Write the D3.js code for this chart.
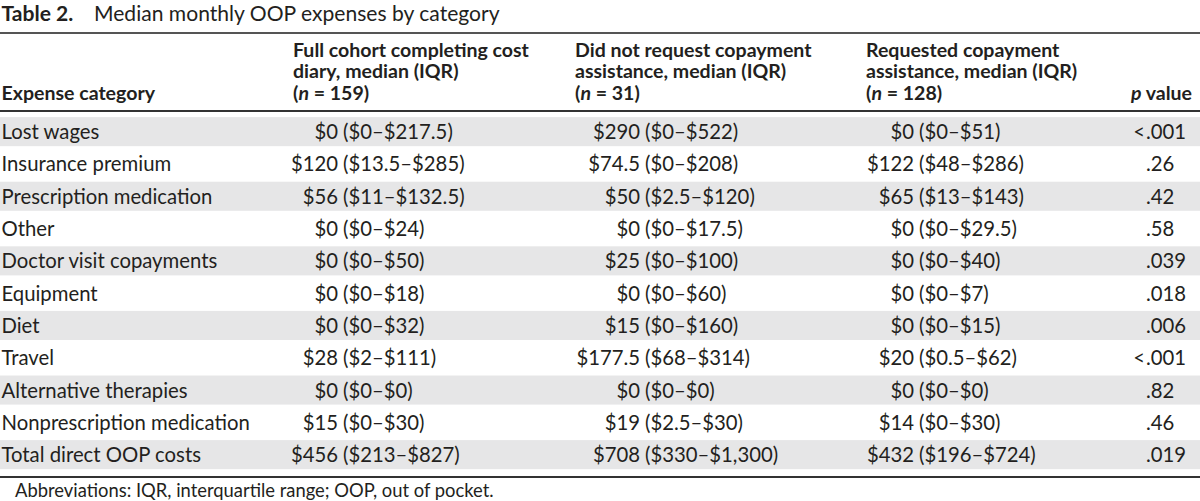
<!DOCTYPE html>
<meta charset="utf-8">
<style>
    body { margin: 0; background: #fff; }
    svg text { font-family: Lato, "Open Sans", sans-serif; fill: #231f20; }
    .head { font-weight: bold; }
    .band { fill: #e6e6e7; }
</style>
<body>
<script src="https://d3js.org/d3.v7.min.js"></script>
<script>
    // table values
    var categories = ["Lost wages", "Insurance premium", "Prescription medication", "Other",
        "Doctor visit copayments", "Equipment", "Diet", "Travel", "Alternative therapies",
        "Nonprescription medication", "Total direct OOP costs"];
    var fullCohort = ["$0 ($0–$217.5)", "$120 ($13.5–$285)", "$56 ($11–$132.5)", "$0 ($0–$24)",
        "$0 ($0–$50)", "$0 ($0–$18)", "$0 ($0–$32)", "$28 ($2–$111)", "$0 ($0–$0)",
        "$15 ($0–$30)", "$456 ($213–$827)"];
    var notRequested = ["$290 ($0–$522)", "$74.5 ($0–$208)", "$50 ($2.5–$120)", "$0 ($0–$17.5)",
        "$25 ($0–$100)", "$0 ($0–$60)", "$15 ($0–$160)", "$177.5 ($68–$314)", "$0 ($0–$0)",
        "$19 ($2.5–$30)", "$708 ($330–$1,300)"];
    var requested = ["$0 ($0–$51)", "$122 ($48–$286)", "$65 ($13–$143)", "$0 ($0–$29.5)",
        "$0 ($0–$40)", "$0 ($0–$7)", "$0 ($0–$15)", "$20 ($0.5–$62)", "$0 ($0–$0)",
        "$14 ($0–$30)", "$432 ($196–$724)"];
    var pValues = ["<.001", ".26", ".42", ".58", ".039", ".018", ".006", "<.001", ".82", ".46", ".019"];

    var headFull = ["Full cohort completing cost", "diary, median (IQR)", ["(", "n", " = 159)"]];
    var headNot = ["Did not request copayment", "assistance, median (IQR)", ["(", "n", " = 31)"]];
    var headReq = ["Requested copayment", "assistance, median (IQR)", ["(", "n", " = 128)"]];
    var titleLabel = "Table 2.";
    var titleText = "Median monthly OOP expenses by category";
    var footnote = "Abbreviations: IQR, interquartile range; OOP, out of pocket.";

    var width = 1200, height = 501;

    var svg = d3.select("body").append("svg")
        .attr("width", width)
        .attr("height", height);

    // pick a font size so a sample string spans the width it has in the original
    function fitSize(sample, target, bold) {
        var t = svg.append("text").attr("font-size", 20).text(sample);
        if (bold) t.attr("font-weight", "bold");
        var len = t.node().getComputedTextLength();
        t.remove();
        return 20 * target / len;
    }
    var cellSize = fitSize("Prescription medication", 211, false);
    var headSize = fitSize("Full cohort completing cost", 236, true);
    var titleSize = fitSize(titleText, 406, false);
    var footSize = fitSize(footnote, 479, false);

    // title
    var title = svg.append("text").attr("x", 1.5).attr("y", 21).attr("font-size", titleSize);
    title.append("tspan").attr("font-weight", "bold").text(titleLabel);
    title.append("tspan").attr("x", 94).text(titleText);

    // rules
    function rule(yy, w, c) {
        svg.append("line").attr("x1", 0).attr("x2", width).attr("y1", yy).attr("y2", yy)
            .attr("stroke", c).attr("stroke-width", w);
    }
    rule(33, 2, "#555");
    rule(111, 2, "#333");
    rule(477, 2, "#333");

    // row scale
    var y = d3.scaleBand()
        .domain(categories)
        .range([115.5, 470.8])
        .paddingInner(0.1)
        .paddingOuter(0.05);

    // column anchors: "(" alignment for the IQR columns, decimal point for p
    var colX = { cat: 1.5, full: 343, not: 645, req: 919, p: 1146 };
    var headX = { full: 293, not: 575, req: 866 };

    // header
    var headLines = [57, 78, 99.5];
    function drawHead(lines, x) {
        lines.forEach(function(l, i) {
            var t = svg.append("text").attr("class", "head").attr("font-size", headSize)
                .attr("x", x).attr("y", headLines[i]);
            if (Array.isArray(l)) {
                t.append("tspan").text(l[0]);
                t.append("tspan").attr("font-style", "italic").text(l[1]);
                t.append("tspan").text(l[2]);
            } else {
                t.text(l);
            }
        });
    }
    svg.append("text").attr("class", "head").attr("font-size", headSize)
        .attr("x", colX.cat).attr("y", headLines[2]).text("Expense category");
    drawHead(headFull, headX.full);
    drawHead(headNot, headX.not);
    drawHead(headReq, headX.req);
    var pv = svg.append("text").attr("class", "head").attr("font-size", headSize)
        .attr("x", 1192).attr("y", headLines[2]).attr("text-anchor", "end");
    pv.append("tspan").attr("font-style", "italic").text("p");
    pv.append("tspan").text(" value");

    // row bands (every other row)
    svg.selectAll("rect.band")
        .data(categories.filter(function(d, i) { return i % 2 === 0; }))
        .enter().append("rect")
        .attr("class", "band")
        .attr("x", 0)
        .attr("width", width)
        .attr("y", function(d) { return y(d); })
        .attr("height", y.bandwidth());

    var rows = svg.selectAll("g.row")
        .data(categories)
        .enter().append("g")
        .attr("class", "row")
        .attr("font-size", cellSize)
        .attr("transform", function(d) { return "translate(0," + (y(d) + y.bandwidth() / 2 + 7.5) + ")"; });

    rows.append("text").attr("x", colX.cat).text(function(d) { return d; });

    // split "$a ($b–$c)" at the parenthesis so the IQRs line up
    var gap = cellSize * 0.24;
    function splitCell(g, values, x) {
        g.append("text").attr("x", x - gap).attr("text-anchor", "end")
            .text(function(d, i) { return values[i].split(" (")[0]; });
        g.append("text").attr("x", x)
            .text(function(d, i) { return "(" + values[i].split(" (")[1]; });
    }
    splitCell(rows, fullCohort, colX.full);
    splitCell(rows, notRequested, colX.not);
    splitCell(rows, requested, colX.req);

    rows.append("text").attr("x", colX.p - 1).attr("text-anchor", "end")
        .text(function(d, i) { return pValues[i].split(".")[0]; });
    rows.append("text").attr("x", colX.p)
        .text(function(d, i) { return "." + pValues[i].split(".")[1]; });

    svg.append("text").attr("font-size", footSize).attr("x", 15).attr("y", 497).text(footnote);
</script>
</body>
